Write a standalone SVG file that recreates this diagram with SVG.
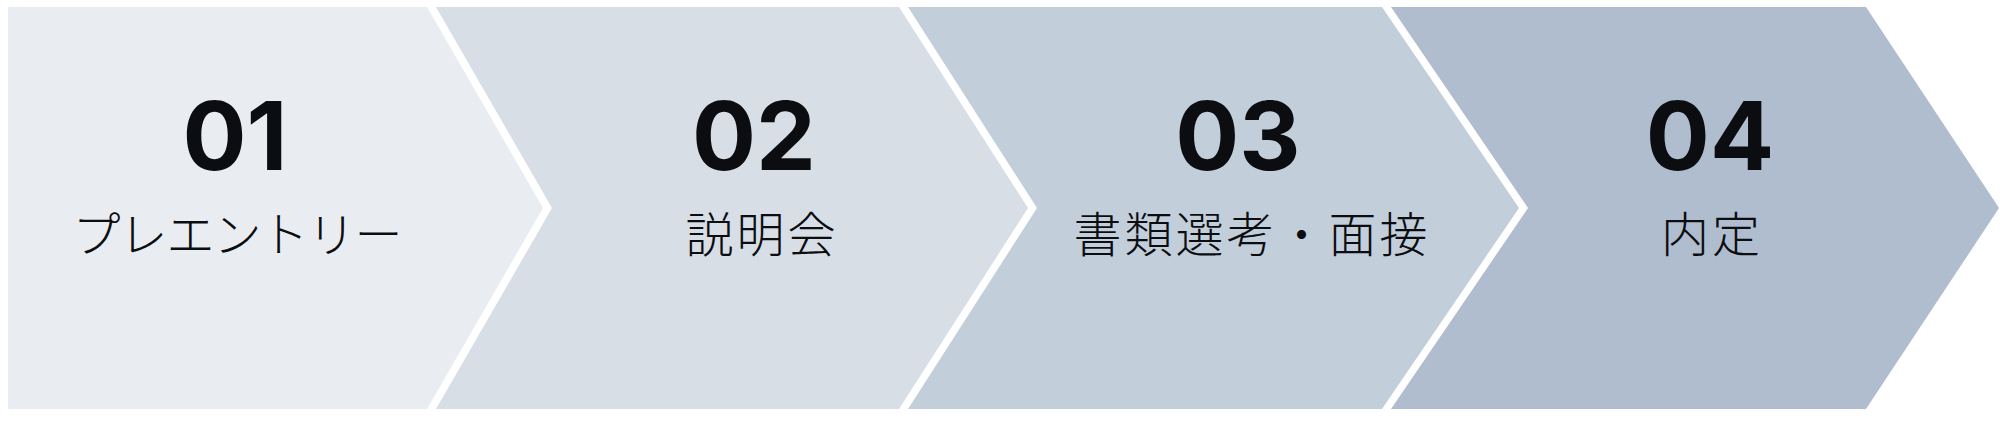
<svg xmlns="http://www.w3.org/2000/svg" width="2009" height="425" viewBox="0 0 2009 425">
<style>
.num{font-family:Inter,"Liberation Sans",sans-serif;font-weight:700;font-size:95px;fill:#0c0d10;text-anchor:middle}
.lbl{font-family:"Noto Sans CJK JP","Noto Sans",sans-serif;font-weight:300;font-size:48px;fill:#0c0d10;text-anchor:middle;letter-spacing:3px}
.kana{letter-spacing:-1px}
</style>
<rect width="2009" height="425" fill="#ffffff"/>
<g id="step1">
<polygon points="8,7 427,7 543,208 427,409 8,409" fill="#e9edf1"/>
<text class="num" x="235" y="170">01</text>
<text class="lbl kana" x="237" y="252">プレエントリー</text>
</g>
<g id="step2">
<polygon points="436,7 899,7 1028,208 899,409 436,409 552,208" fill="#d7dee6"/>
<text class="num" x="754" y="170">02</text>
<text class="lbl" x="762" y="252">説明会</text>
</g>
<g id="step3">
<polygon points="908,7 1382,7 1519,208 1382,409 908,409 1037,208" fill="#c3cedb"/>
<text class="num" x="1238" y="170">03</text>
<text class="lbl" x="1252" y="252">書類選考・面接</text>
</g>
<g id="step4">
<polygon points="1391,7 1866,7 1999,208 1866,409 1391,409 1528,208" fill="#b0bdcf"/>
<text class="num" x="1710" y="170">04</text>
<text class="lbl" x="1712" y="252">内定</text>
</g>
<g id="connectors"></g>
</svg>
